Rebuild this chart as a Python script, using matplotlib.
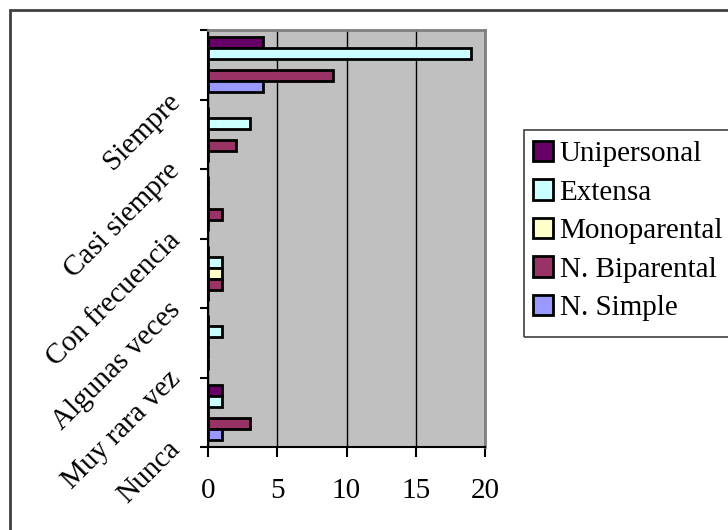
import numpy as np
import matplotlib
matplotlib.use("Agg")
from matplotlib import pyplot as plt
from matplotlib import transforms
from matplotlib.patches import Rectangle, Patch

categories = ["Siempre", "Casi siempre", "Con frecuencia", "Algunas veces", "Muy rara vez", "Nunca"]
series_names = ["Unipersonal", "Extensa", "Monoparental", "N. Biparental", "N. Simple"]
unipersonal = [4, 0, 0, 0, 0, 1]
extensa = [19, 3, 0, 1, 1, 1]
monoparental = [0, 0, 0, 1, 0, 0]
biparental = [9, 2, 1, 1, 0, 3]
simple = [4, 0, 0, 0, 0, 1]
series_values = [unipersonal, extensa, monoparental, biparental, simple]
colors = ["#660066", "#CCFFFF", "#FFFFCC", "#993366", "#9999FF"]
x_ticks = [0, 5, 10, 15, 20]

plt.rcParams["font.family"] = ["Liberation Serif", "DejaVu Serif"]
FS = 21

fig = plt.figure(figsize=(7.28, 5.30), dpi=100)
fig.patch.set_facecolor("white")
# outer chart border (clipped at right/bottom like the original)
fig.patches.append(Rectangle((10 / 728, -0.1), 1.2, 1 - 10 / 530 + 0.1, transform=fig.transFigure,
                             fill=False, edgecolor="#404040", linewidth=2))
# legend frame, drawn by hand (runs off the right edge)
fig.patches.append(Rectangle((524 / 728, 1 - 337 / 530), 0.5, 207 / 530, transform=fig.transFigure,
                             fill=False, edgecolor="#404040", linewidth=1.2))

ax = fig.add_axes([208 / 728, 1 - 447 / 530, 277 / 728, 417 / 530])
ax.set_facecolor("#C0C0C0")

n_groups = len(categories)
bar_h = 0.158
y = np.arange(n_groups)
for j, (name, vals, c) in enumerate(zip(series_names, series_values, colors)):
    ax.barh(y + (j - 2) * bar_h, vals, height=bar_h, color=c, edgecolor="black",
            linewidth=2, label=name, zorder=3)

ax.set_xlim(0, 20)
ax.set_ylim(n_groups - 0.5, -0.5)
ax.set_xticks(x_ticks)
ax.set_xticklabels([str(t) for t in x_ticks], fontsize=FS)
ax.xaxis.grid(True, color="black", linewidth=1, zorder=1)
ax.set_axisbelow(True)

ax.set_yticks(np.arange(n_groups + 1) - 0.5)
ax.set_yticklabels([])
ax.tick_params(axis="y", length=6, width=1.5, color="black", direction="out")
ax.tick_params(axis="x", length=7, width=1.5, color="black", direction="out", pad=15)

for s in ["top", "right"]:
    ax.spines[s].set_color("#808080")
    ax.spines[s].set_linewidth(2)
for s in ["left", "bottom"]:
    ax.spines[s].set_color("black")
    ax.spines[s].set_linewidth(1.5)

trans = transforms.blended_transform_factory(ax.transAxes, ax.transData)
for i, cat in enumerate(categories):
    ax.text(-0.115, i + 0.47, cat, transform=trans, rotation=45, ha="right", va="center",
            rotation_mode="anchor", fontsize=FS)

handles = [Patch(facecolor=c, edgecolor="black", linewidth=2) for c in colors]
leg = fig.legend(handles, series_names, loc="upper left", bbox_to_anchor=(533 / 728, 1 - 141 / 530),
                 fontsize=FS, frameon=False, handlelength=0.68, handleheight=0.68,
                 handletextpad=0.23, labelspacing=0.42, borderpad=0, borderaxespad=0)

fig.savefig("out.png", dpi=100)
